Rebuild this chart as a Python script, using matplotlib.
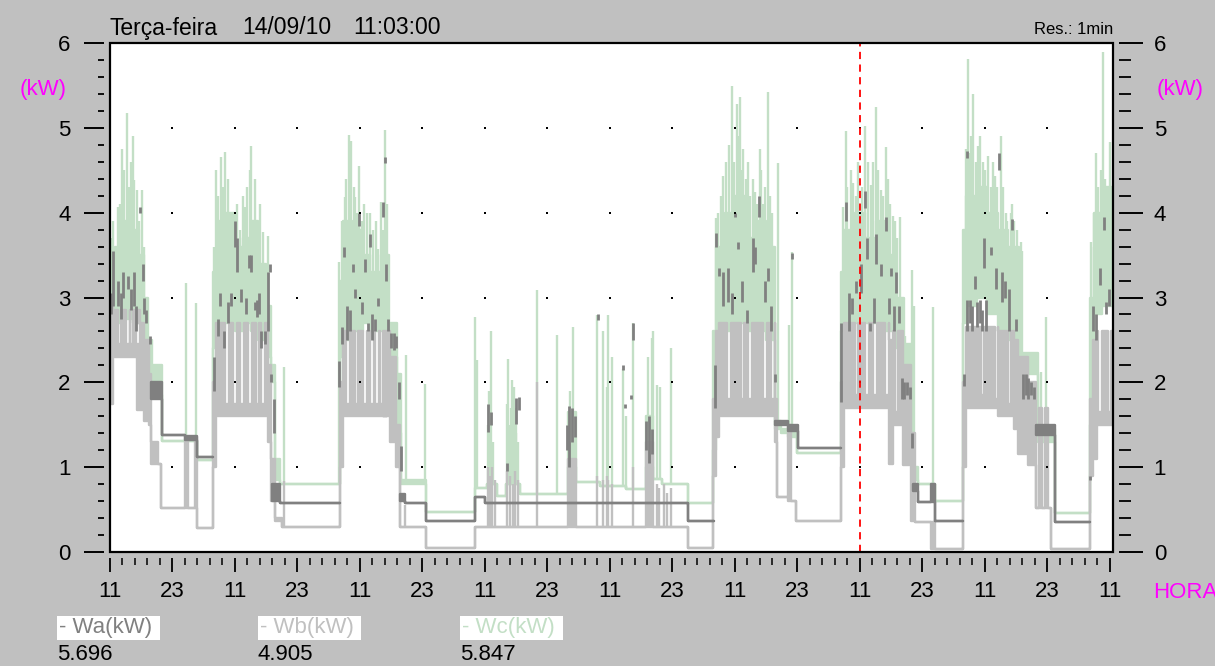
import numpy as np
import matplotlib.pyplot as plt
from matplotlib.patches import Rectangle

plt.rcParams['font.family'] = ['Liberation Sans', 'DejaVu Sans']

# ---------------------------------------------------------------
# Dados: horas desde as 11:00 do primeiro dia, potencia em kW
# Cada trecho vale de t[i] ate t[i+1]; lo/hi = faixa coberta no trecho
# ---------------------------------------------------------------
T_END = 192.6

wc_t = [0.0, 1.0, 2.3, 3.3, 4.4, 5.5, 6.5, 7.3, 8.0, 10.0,
        16.7, 19.8, 20.5, 22.0, 24.0, 25.5, 27.0, 28.5, 30.0, 31.0,
        31.6, 32.6, 44.2, 44.8, 46.5, 48.5, 50.0, 52.0, 53.5, 55.2,
        55.9, 60.6, 70.1, 72.3, 74.3, 76.0, 78.7, 87.9, 89.4, 94.0,
        99.0, 103.0, 104.2, 106.0, 111.0, 115.8, 116.4, 118.0, 120.0, 122.0,
        124.0, 126.0, 127.6, 128.8, 130.2, 132.0, 140.4, 141.0, 143.0, 145.0,
        147.0, 149.0, 151.0, 152.5, 154.0, 155.2, 158.4, 163.8, 164.4, 166.5,
        168.5, 170.5, 172.5, 174.5, 178.2, 181.4, 188.2, 188.9, 190.5]
wc_lo = [2.65, 2.7, 2.8, 2.75, 2.7, 2.7, 2.4, 2.0, 1.85, 1.31,
         1.08, 2.4, 2.6, 2.7, 2.6, 2.7, 2.6, 2.5, 2.3, 2.0,
         0.85, 0.8, 2.3, 2.5, 2.6, 2.7, 2.6, 2.6, 2.3, 1.4,
         0.8, 0.47, 0.76, 0.8, 0.66, 0.8, 0.68, 1.0, 0.82, 0.78,
         0.74, 1.0, 0.86, 0.8, 0.58, 1.2, 2.5, 2.6, 2.7, 2.6,
         2.6, 2.5, 1.45, 1.4, 1.35, 1.17, 2.6, 2.6, 2.7, 2.7,
         2.7, 2.6, 2.4, 2.2, 0.85, 0.8, 0.6, 2.7, 2.9, 3.0,
         2.8, 2.6, 2.5, 2.1, 1.3, 0.46, 1.5, 2.8, 2.9]
wc_hi = [3.3, 3.6, 3.9, 3.7, 3.8, 3.5, 3.0, 2.5, 2.2, 1.31,
         1.08, 3.3, 3.9, 4.0, 3.6, 3.7, 3.9, 3.4, 2.9, 2.2,
         1.1, 0.8, 3.2, 3.9, 3.8, 3.5, 3.3, 3.5, 2.7, 2.1,
         0.85, 0.47, 0.76, 0.8, 0.66, 0.8, 0.68, 1.65, 0.82, 0.78,
         0.74, 1.6, 0.86, 0.8, 0.58, 2.6, 3.6, 4.0, 4.2, 3.7,
         3.9, 3.6, 1.55, 1.45, 1.4, 1.17, 3.3, 3.8, 4.0, 3.7,
         3.9, 3.5, 3.0, 2.45, 1.0, 0.8, 0.6, 3.8, 4.2, 4.3,
         4.0, 3.8, 3.6, 2.35, 1.45, 0.46, 3.0, 4.0, 4.3]

# picos de Wc (hora, valor maximo)
wc_peaks = [(0.2, 3.7), (0.5, 3.9), (1.0, 3.6), (1.5, 4.07), (1.9, 4.1), (2.3, 4.75),
            (2.7, 4.5), (3.3, 5.18), (3.6, 4.3), (4.0, 4.6), (4.4, 4.9), (4.7, 4.39),
            (5.2, 4.27), (5.6, 3.9), (6.1, 4.27), (6.6, 3.6), (14.6, 3.17), (16.6, 2.93),
            (20.0, 3.6), (20.4, 4.5), (20.8, 4.2), (21.3, 4.66), (21.7, 4.3), (22.1, 4.72),
            (22.6, 4.4), (23.3, 4.0), (23.9, 3.9), (24.4, 4.1), (25.0, 3.8), (25.5, 4.2),
            (25.9, 4.07), (26.4, 4.3), (26.8, 4.5), (27.1, 4.78), (27.8, 4.4), (28.3, 3.9),
            (28.8, 4.1), (29.4, 3.77), (30.3, 3.73), (33.4, 2.18),
            (44.0, 3.42), (44.5, 3.9), (45.1, 4.19), (45.4, 4.4), (45.9, 4.92), (46.3, 4.85),
            (46.8, 4.3), (47.0, 4.19), (47.4, 4.0), (47.8, 4.55), (48.3, 3.9), (48.8, 4.1),
            (49.4, 4.0), (49.9, 4.0), (50.5, 3.8), (51.0, 3.9), (51.5, 3.57), (52.0, 4.13),
            (52.4, 3.8), (52.8, 4.98), (53.1, 4.1), (53.4, 3.5), (54.1, 2.6),
            (56.8, 2.32), (60.5, 1.98),
            (70.1, 2.77), (70.5, 2.26), (72.5, 1.5), (72.7, 1.9), (73.2, 2.6), (73.6, 1.3),
            (76.2, 1.75), (76.4, 2.28), (76.6, 1.5), (77.0, 1.7), (77.2, 2.03), (77.6, 1.95),
            (77.9, 1.4), (78.0, 1.7), (78.3, 1.3), (82.0, 3.09), (85.8, 2.56),
            (88.3, 1.9), (88.9, 2.65), (93.6, 2.79), (94.7, 2.6), (95.4, 1.95), (95.6, 2.79),
            (96.3, 2.3), (98.5, 2.16), (99.1, 1.6), (100.4, 2.7), (103.3, 2.3), (104.0, 2.52),
            (104.3, 2.6), (105.0, 1.97), (105.6, 1.95), (107.8, 2.4),
            (116.4, 3.94), (116.8, 4.0), (117.3, 4.2), (117.7, 4.43), (118.3, 4.6),
            (118.9, 4.8), (119.4, 5.49), (119.8, 4.6), (120.4, 5.28), (120.7, 4.9),
            (121.0, 5.36), (121.4, 4.5), (121.6, 4.75), (122.1, 4.4), (122.5, 4.6),
            (122.9, 4.2), (123.4, 4.4), (123.8, 4.24), (124.2, 4.1), (124.8, 4.75),
            (125.0, 4.5), (125.4, 4.1), (125.8, 4.3), (126.3, 5.42), (126.8, 4.2),
            (127.2, 4.0), (128.3, 4.59), (130.4, 2.67), (130.9, 3.54),
            (140.7, 4.07), (141.3, 4.96), (141.6, 4.3), (142.2, 4.5), (142.7, 4.35),
            (143.3, 4.2), (143.7, 4.6), (144.4, 4.3), (145.0, 5.02), (145.5, 4.6),
            (146.1, 4.33), (146.6, 4.6), (147.1, 5.24), (147.5, 4.5), (148.0, 4.27),
            (148.4, 4.2), (149.0, 4.77), (149.4, 4.4), (149.8, 4.1), (150.3, 3.96),
            (150.8, 3.9), (151.2, 3.7), (151.7, 3.95), (152.7, 2.55), (154.0, 3.33),
            (154.3, 2.9), (158.0, 2.89),
            (164.4, 4.75), (164.7, 5.81), (165.0, 4.7), (165.4, 4.9), (165.7, 5.4),
            (166.2, 4.6), (166.7, 4.78), (167.1, 4.9), (167.6, 4.6), (168.0, 4.5),
            (168.6, 4.67), (169.2, 4.3), (169.5, 4.6), (169.9, 4.43), (170.3, 4.3),
            (171.1, 4.9), (171.5, 4.3), (172.0, 4.0), (172.3, 3.9), (173.0, 4.0),
            (173.3, 4.1), (173.6, 3.9), (174.2, 3.8), (174.9, 3.66), (175.1, 3.55),
            (178.8, 2.12), (179.7, 2.77),
            (188.4, 3.66), (188.9, 3.6), (189.0, 4.0), (189.4, 4.7), (189.8, 4.3),
            (190.2, 4.5), (190.7, 5.89), (191.0, 4.4), (191.3, 4.2), (191.7, 4.1),
            (192.0, 4.83)]

wb_t = [0.0, 0.6, 5.2, 6.5, 7.5, 7.9, 9.3, 9.8, 14.4, 14.9,
        16.3, 16.7, 19.8, 20.3, 30.3, 31.0, 31.6, 33.0, 44.1, 44.8,
        53.8, 54.9, 55.7, 60.6, 70.1, 87.9, 89.4, 103.0, 104.2, 111.0,
        115.8, 116.3, 117.0, 127.6, 128.0, 130.2, 130.8, 131.7, 140.4, 141.0,
        149.6, 150.4, 152.2, 153.8, 154.6, 157.6, 158.4, 163.8, 164.4, 170.5,
        173.5, 174.3, 176.3, 177.8, 178.4, 179.0, 179.6, 180.1, 180.7, 188.2,
        188.7, 189.6]
wb_lo = [1.75, 2.3, 1.67, 1.55, 1.5, 1.04, 1.04, 0.52, 0.52, 0.52,
         0.52, 0.28, 1.0, 1.6, 1.3, 0.6, 0.36, 0.3, 1.0, 1.6,
         1.3, 1.0, 0.3, 0.05, 0.3, 0.3, 0.3, 0.3, 0.3, 0.05,
         0.9, 1.35, 1.6, 1.3, 0.65, 0.6, 0.6, 0.37, 1.0, 1.7,
         1.04, 1.5, 1.03, 0.37, 0.35, 0.04, 0.04, 1.0, 1.7, 1.6,
         1.45, 1.15, 1.03, 0.52, 0.52, 0.52, 0.52, 0.52, 0.04, 0.9,
         1.1, 1.5]
wb_hi = [2.9, 2.85, 2.7, 2.5, 2.1, 1.3, 1.04, 0.52, 1.35, 0.52,
         1.35, 0.28, 2.0, 2.7, 2.2, 1.1, 0.4, 0.3, 2.0, 2.6,
         2.3, 1.5, 0.3, 0.05, 0.3, 1.1, 0.3, 1.3, 0.3, 0.05,
         1.8, 2.6, 2.7, 1.8, 0.65, 1.5, 0.6, 0.37, 2.0, 2.7,
         2.5, 2.6, 2.2, 1.4, 0.35, 0.35, 0.04, 2.0, 2.65, 2.6,
         2.5, 2.3, 2.0, 0.52, 1.7, 0.52, 1.7, 0.52, 0.04, 1.8,
         2.5, 2.6]

# colunas onde Wb fica baixo (hora, valor maximo na coluna)
wb_dips = [(1.5, 2.45), (3.1, 2.45), (3.8, 2.45), (5.0, 2.45),
           (22.1, 1.75), (23.6, 1.75), (25.0, 1.75), (26.5, 1.75), (28.0, 1.75), (29.0, 1.75),
           (45.3, 1.75), (47.0, 1.75), (48.6, 1.75), (49.9, 1.75), (50.9, 1.75), (51.8, 1.75),
           (52.4, 1.75),
           (118.5, 1.8), (121.1, 1.8), (122.5, 1.8), (125.4, 1.8), (126.9, 1.8),
           (143.0, 1.85), (145.0, 1.85), (146.5, 1.85), (148.8, 1.85), (150.7, 1.65),
           (167.2, 1.85), (169.9, 1.8), (172.4, 1.75),
           (189.8, 1.65), (191.6, 1.65)]
wb_peaks = [(33.4, 0.84), (56.6, 0.55), (72.6, 1.0), (73.0, 0.9), (73.4, 1.0), (73.9, 0.85),
            (76.3, 0.95), (76.8, 0.9), (77.3, 0.8), (77.7, 0.95), (78.3, 0.85), (82.0, 2.0),
            (93.6, 0.9), (94.7, 0.85), (95.4, 0.9), (95.6, 0.85), (96.3, 0.8), (100.4, 1.0),
            (105.0, 0.8), (105.5, 0.75), (106.3, 0.8), (107.0, 0.7), (107.8, 0.75)]

nan = np.nan
wa_t = [0.0, 7.8, 10.0, 14.4, 16.7, 19.8, 31.2, 32.6, 44.2, 55.7,
        56.6, 60.6, 70.1, 72.0, 111.0, 116.0, 127.6, 130.2, 132.1, 140.4,
        154.2, 155.1, 157.6, 158.4, 163.8, 177.8, 181.4, 188.2]
wa_lo = [nan, 1.8, 1.38, 1.32, 1.12, nan, 0.6, 0.58, nan, 0.6,
         0.58, 0.37, 0.65, 0.58, 0.36, nan, 1.5, 1.43, 1.23, nan,
         0.72, 0.59, 0.59, 0.36, nan, 1.38, 0.35, nan]
wa_hi = [nan, 2.0, 1.38, 1.37, 1.12, nan, 0.8, 0.58, nan, 0.68,
         0.58, 0.37, 0.65, 0.58, 0.36, nan, 1.55, 1.5, 1.23, nan,
         0.8, 0.59, 0.8, 0.36, nan, 1.5, 0.35, nan]

# trechos de Wa visiveis no horario comercial (hora, min, max)
wa_marks = [(0.2, 2.8, 3.05), (0.6, 2.9, 3.55), (1.6, 2.9, 3.2), (2.1, 2.75, 3.05),
            (2.5, 3.0, 3.3), (3.5, 3.1, 3.25), (4.0, 2.85, 3.1), (4.6, 2.9, 3.3),
            (5.0, 2.6, 2.9), (5.8, 4.0, 4.07), (6.3, 3.2, 3.4), (6.6, 2.8, 3.0),
            (7.0, 2.7, 2.85), (7.6, 2.45, 2.55),
            (20.0, 1.9, 2.3), (20.8, 2.55, 2.75), (21.2, 2.9, 3.05), (21.8, 2.4, 2.6),
            (22.6, 2.7, 2.95), (23.3, 2.9, 3.05), (24.0, 3.6, 3.9), (24.4, 3.3, 3.7),
            (25.2, 2.95, 3.1), (26.1, 2.8, 3.0), (26.6, 3.35, 3.5), (27.1, 3.3, 3.5),
            (27.8, 2.85, 2.95), (28.2, 2.77, 2.97), (28.6, 2.8, 3.05), (29.0, 2.4, 2.6),
            (29.7, 2.45, 2.6), (30.3, 2.6, 3.3), (30.7, 3.3, 3.4), (31.0, 2.0, 2.1),
            (31.4, 1.4, 1.8),
            (44.0, 1.95, 2.25), (44.5, 2.45, 2.65), (45.0, 3.48, 3.6), (45.5, 2.5, 2.9),
            (46.1, 2.6, 2.85), (46.6, 3.3, 3.4), (47.0, 3.0, 3.1), (47.9, 3.84, 4.0),
            (48.4, 2.8, 2.95), (49.0, 3.3, 3.45), (49.5, 2.6, 2.7), (49.9, 3.6, 3.75),
            (50.4, 2.5, 2.8), (50.9, 2.6, 2.75), (51.5, 2.9, 3.0), (52.4, 3.95, 4.12),
            (52.8, 4.59, 4.66), (53.0, 3.2, 3.4), (53.4, 2.6, 2.75), (54.0, 2.4, 2.58),
            (54.6, 2.38, 2.58), (55.0, 2.4, 2.55), (55.4, 1.8, 2.0), (55.8, 0.95, 1.25),
            (72.6, 1.41, 1.75), (73.1, 1.5, 1.65), (76.2, 0.95, 1.05), (78.0, 1.51, 1.82),
            (78.6, 1.67, 1.83), (87.7, 1.2, 1.5), (88.2, 1.0, 1.72), (88.7, 1.3, 1.7),
            (89.2, 1.35, 1.6), (93.7, 2.74, 2.8), (98.5, 2.15, 2.2), (98.9, 1.7, 1.75),
            (100.0, 1.8, 1.85), (100.4, 2.5, 2.7), (103.0, 1.2, 1.55), (103.5, 1.05, 1.6),
            (104.1, 1.15, 1.45),
            (116.2, 1.7, 2.2), (116.3, 3.6, 3.76), (117.0, 3.25, 3.35), (117.8, 2.9, 3.3),
            (118.6, 2.95, 3.35), (119.5, 2.8, 3.05), (120.1, 3.95, 4.0), (120.5, 3.57, 3.65),
            (121.4, 2.95, 3.2), (122.3, 2.7, 2.85), (123.4, 3.3, 3.7), (123.9, 3.4, 3.6),
            (124.7, 3.95, 4.2), (125.7, 2.95, 3.2), (126.4, 3.2, 3.35), (127.0, 2.6, 2.9),
            (127.6, 2.0, 2.1), (130.9, 3.45, 3.53),
            (140.4, 1.77, 2.7), (141.4, 3.9, 4.12), (141.9, 2.6, 3.05), (142.5, 2.8, 3.0),
            (143.3, 3.05, 3.2), (144.2, 3.05, 3.4), (145.0, 4.05, 4.25), (145.4, 3.45, 3.7),
            (145.9, 2.6, 2.7), (146.7, 2.7, 3.0), (147.1, 3.4, 3.75), (148.0, 3.25, 3.4),
            (149.1, 3.78, 3.95), (149.6, 2.8, 3.0), (150.0, 3.25, 3.35), (150.5, 2.6, 2.9),
            (151.0, 3.05, 3.3), (151.6, 2.7, 2.9), (152.0, 1.8, 2.05), (152.5, 1.8, 2.0),
            (153.0, 1.85, 2.0), (153.6, 1.8, 1.95), (154.0, 1.23, 1.4),
            (163.9, 1.96, 2.1), (164.5, 4.65, 4.73), (164.6, 2.6, 2.97), (165.1, 2.7, 2.97),
            (165.6, 2.6, 2.9), (166.1, 3.1, 3.25), (166.5, 2.65, 2.95), (167.0, 2.7, 2.97),
            (167.5, 2.6, 2.85), (167.9, 3.35, 3.7), (168.3, 2.6, 2.97), (169.1, 3.5, 3.6),
            (170.1, 3.1, 3.35), (170.8, 4.5, 4.7), (171.3, 2.95, 3.3), (171.8, 3.0, 3.2),
            (172.6, 2.6, 3.1), (173.3, 3.8, 3.93), (174.0, 2.6, 2.75), (175.3, 1.8, 2.1),
            (175.8, 1.85, 2.1), (176.3, 1.8, 2.05), (176.9, 1.85, 2.0), (177.4, 1.8, 1.95),
            (188.2, 0.85, 0.9), (188.8, 2.6, 2.9), (189.3, 2.5, 2.8), (190.1, 3.15, 3.35),
            (190.8, 3.8, 3.95), (191.3, 2.8, 2.95), (191.9, 2.9, 3.1)]

hour_ticks = np.arange(0, 193, 12)
hour_labels = ['11', '23'] * 8 + ['11']
cursor_h = 144.0

legend_names = ['- Wa(kW)', '- Wb(kW)', '- Wc(kW)']
legend_values = ['5.696', '4.905', '5.847']

C_WA = '#808080'
C_WB = '#c0c0c0'
C_WC = '#c3dfc6'
BG = '#c0c0c0'
MAGENTA = '#ff00ff'
LW = 1.7


def add_dips(t, lo, hi, dips, width=0.7):
    t, lo, hi = list(t), list(lo), list(hi)
    for d, top in sorted(dips):
        i = int(np.searchsorted(t, d, side='right')) - 1
        t[i + 1:i + 1] = [d, d + width]
        lo[i + 1:i + 1] = [lo[i], lo[i]]
        hi[i + 1:i + 1] = [top, hi[i]]
    return t, lo, hi


def draw_steps(ax, t, lo, hi, color, z):
    edges = np.append(np.asarray(t, float), T_END)
    x = np.repeat(edges, 2)[1:-1]
    ylo = np.repeat(np.asarray(lo, float), 2)
    yhi = np.repeat(np.asarray(hi, float), 2)
    ax.fill_between(x, ylo, yhi, facecolor=color, edgecolor=color,
                    linewidth=LW, zorder=z)


def draw_peaks(ax, t, lo, peaks, color, z):
    pt = np.array([p[0] for p in peaks])
    pv = np.array([p[1] for p in peaks])
    idx = np.searchsorted(t, pt, side='right') - 1
    base = np.asarray(lo)[idx]
    ax.vlines(pt, base, pv, colors=color, linewidth=LW, zorder=z)


def fig_xy(x, y):
    return x / 1215, 1 - y / 666


fig = plt.figure(figsize=(12.15, 6.66), dpi=100, facecolor=BG)
ax = fig.add_axes([110 / 1215, 1 - 552 / 666, 1003 / 1215, 509 / 666])
ax.set_facecolor('white')
ax.set_xlim(0, T_END)
ax.set_ylim(0, 6)

# Wc -> Wb -> Wa
draw_steps(ax, wc_t, wc_lo, wc_hi, C_WC, 2)
draw_peaks(ax, wc_t, wc_lo, wc_peaks, C_WC, 2)

bt, blo, bhi = add_dips(wb_t, wb_lo, wb_hi, wb_dips)
draw_steps(ax, bt, blo, bhi, C_WB, 3)
draw_peaks(ax, wb_t, wb_lo, wb_peaks, C_WB, 3)

draw_steps(ax, wa_t, wa_lo, wa_hi, C_WA, 4)
ax.vlines([m[0] for m in wa_marks], [m[1] for m in wa_marks], [m[2] for m in wa_marks],
          colors=C_WA, linewidth=2.0, zorder=4)

# pontos de grade
gx, gy = np.meshgrid(hour_ticks[1:-1], np.arange(1, 6))
ax.scatter(gx.ravel(), gy.ravel(), s=1.5, c='black', marker='s', linewidths=0, zorder=5)

# cursor
ax.axvline(cursor_h, color='#ff0000', linewidth=1.3, linestyle=(0, (4, 3)), zorder=6)

# moldura
ax.add_patch(Rectangle((0, 0), 1, 1, transform=ax.transAxes, fill=False,
                       edgecolor='black', linewidth=1.6, zorder=10, clip_on=False))
for s in ax.spines.values():
    s.set_visible(False)
ax.spines['left'].set_position(('outward', 4))
ax.spines['bottom'].set_position(('outward', 4))

ax.set_xticks(hour_ticks)
ax.set_xticklabels(hour_labels)
ax.set_xticks(np.arange(0, 193, 2.4), minor=True)
ax.tick_params(axis='x', which='major', length=10, width=1.3, pad=7,
               labelsize=16, colors='black')
ax.tick_params(axis='x', which='minor', length=5, width=1.1)

ax.set_yticks(np.arange(0, 7))
ax.set_yticks(np.arange(0, 6.01, 0.2), minor=True)
ax.tick_params(axis='y', which='major', length=14.4, width=1.4, pad=10,
               labelsize=16)
ax.tick_params(axis='y', which='minor', length=4.3, width=1.3)

ax2 = ax.twinx()
ax2.set_ylim(0, 6)
for s in ax2.spines.values():
    s.set_visible(False)
ax2.spines['right'].set_position(('outward', 4))
ax2.set_yticks(np.arange(0, 7))
ax2.set_yticks(np.arange(0, 6.01, 0.2), minor=True)
ax2.tick_params(axis='y', which='major', length=17.3, width=1.4, pad=8,
                labelsize=16)
ax2.tick_params(axis='y', which='minor', length=8.6, width=1.3)

# textos
fig.text(*fig_xy(110, 28), 'Terça-feira', fontsize=16.5, ha='left', va='center')
fig.text(*fig_xy(242, 28), '14/09/10', fontsize=16.5, ha='left', va='center')
fig.text(*fig_xy(353, 28), '11:03:00', fontsize=16.5, ha='left', va='center')
fig.text(*fig_xy(1113, 30), 'Res.: 1min', fontsize=12, ha='right', va='center')
fig.text(*fig_xy(43, 89), '(kW)', fontsize=16, color=MAGENTA, ha='center', va='center')
fig.text(*fig_xy(1180, 89), '(kW)', fontsize=16, color=MAGENTA, ha='center', va='center')
fig.text(*fig_xy(1153, 592), 'HORA', fontsize=16, color=MAGENTA, ha='left', va='center')

box_x = [57, 258, 460]
for x0, name, val, col in zip(box_x, legend_names, legend_values, [C_WA, C_WB, C_WC]):
    fx, fy = fig_xy(x0, 640)
    fig.add_artist(Rectangle((fx, fy), 103 / 1215, 24 / 666, transform=fig.transFigure,
                             facecolor='white', edgecolor='none'))
    fig.text(*fig_xy(x0 + 2, 628), name, fontsize=16, color=col, ha='left', va='center')
    fig.text(*fig_xy(x0, 655), val, fontsize=16, color='black', ha='left', va='center')

fig.savefig('out.png', dpi=100, facecolor=BG)
